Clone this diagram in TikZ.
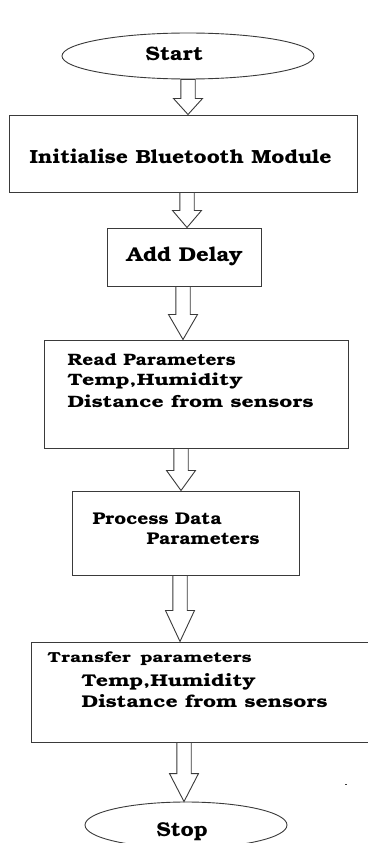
\documentclass[tikz,border=0pt]{standalone}
\usepackage{fontspec}
\setmainfont{TeX Gyre Bonum}
\usetikzlibrary{shapes.geometric,calc}
\definecolor{lc}{HTML}{3A3A3A}
\newcommand{\fsz}[1]{\fontsize{#1}{#1}\selectfont\bfseries}
\newcommand{\tw}[2]{\resizebox{#1pt}{\height}{#2}}
\newcommand{\blockarr}[3]{%
  \draw[barr] let \p1=(#1), \p2=(#2) in
    (\x1-7.2pt,\y1) -- (\x1-7.2pt,\y2+#3pt) -- (\x1-14.5pt,\y2+#3pt) -- (\x2,\y2)
    -- (\x1+14.5pt,\y2+#3pt) -- (\x1+7.2pt,\y2+#3pt) -- (\x1+7.2pt,\y1) -- cycle;}
\tikzset{
  box/.style={draw=lc, line width=1pt, rectangle, inner sep=0pt},
  term/.style={draw=lc, line width=0.9pt, ellipse, inner sep=0pt},
  txt/.style={inner sep=0pt, anchor=base west, text=black},
  barr/.style={draw=lc, line width=0.9pt, fill=white, line join=miter},
}
\begin{document}
\begin{tikzpicture}[x=1pt,y=-1pt]
\useasboundingbox (0,0) rectangle (367,843);
\fill[white] (0,0) rectangle (367,843);
% terminals
\node[term, minimum width=252pt, minimum height=46pt] (start) at (188,56) {};
\node[txt, font=\fsz{19.5}] (tstart) at (145.5,60.7) {\tw{57.5}{Start}};
\node[term, minimum width=202pt, minimum height=46pt] (stop) at (186,825) {};
\node[txt, font=\fsz{20}] (tstop) at (156.5,836.7) {\tw{51}{Stop}};
% boxes
\node[box, minimum width=348pt, minimum height=77pt] (init) at (183,153.5) {};
\node[txt, font=\fsz{19}] (tinit) at (29.5,163.7) {\tw{302}{Initialise Bluetooth Module}};
\node[box, minimum width=154pt, minimum height=58pt] (delay) at (184,257) {};
\node[txt, font=\fsz{20}] (tdelay) at (126.5,261.7) {\tw{116}{Add Delay}};
\node[box, minimum width=304pt, minimum height=108pt] (read) at (196,394) {};
\node[txt, font=\fsz{16.5}] (tread1) at (67.5,365) {\tw{168}{Read Parameters}};
\node[txt, font=\fsz{16.5}] (tread2) at (67.5,385.7) {\tw{175}{Temp,Humidity}};
\node[txt, font=\fsz{16.5}] (tread3) at (67.5,407.7) {\tw{246}{Distance from sensors}};
\node[box, minimum width=227pt, minimum height=84pt] (proc) at (185.5,533) {};
\node[txt, font=\fsz{17}] (tproc1) at (92.5,524) {\tw{129}{Process Data}};
\node[txt, font=\fsz{17}] (tproc2) at (146.5,544) {\tw{113}{Parameters}};
\node[box, minimum width=338pt, minimum height=100pt] (trans) at (200,692) {};
\node[txt, font=\fsz{14.5}] (ttr1) at (47.5,662.3) {\tw{204}{Transfer\, parameters}};
\node[txt, font=\fsz{17}] (ttr2) at (81.5,686.3) {\tw{174}{Temp,Humidity}};
\node[txt, font=\fsz{17}] (ttr3) at (81.5,707.7) {\tw{246}{Distance from sensors}};
% arrow x positions
\coordinate (a1) at (188,0);
\coordinate (a2) at (187,0);
\coordinate (a3) at (183,0);
\coordinate (a4) at (181,0);
\coordinate (a5) at (180,0);
\coordinate (a6) at (184,0);
\blockarr{a1 |- start.south}{a1 |- init.north}{16}
\blockarr{a2 |- init.south}{a2 |- delay.north}{17}
\blockarr{a3 |- delay.south}{a3 |- read.north}{25}
\blockarr{a4 |- read.south}{a4 |- proc.north}{20}
\blockarr{a5 |- proc.south}{a5 |- trans.north}{31}
\blockarr{a6 |- trans.south}{a6 |- stop.north}{28}
% stray dot
\fill[lc] (345,783.5) rectangle (347,785);
\end{tikzpicture}
\end{document}
